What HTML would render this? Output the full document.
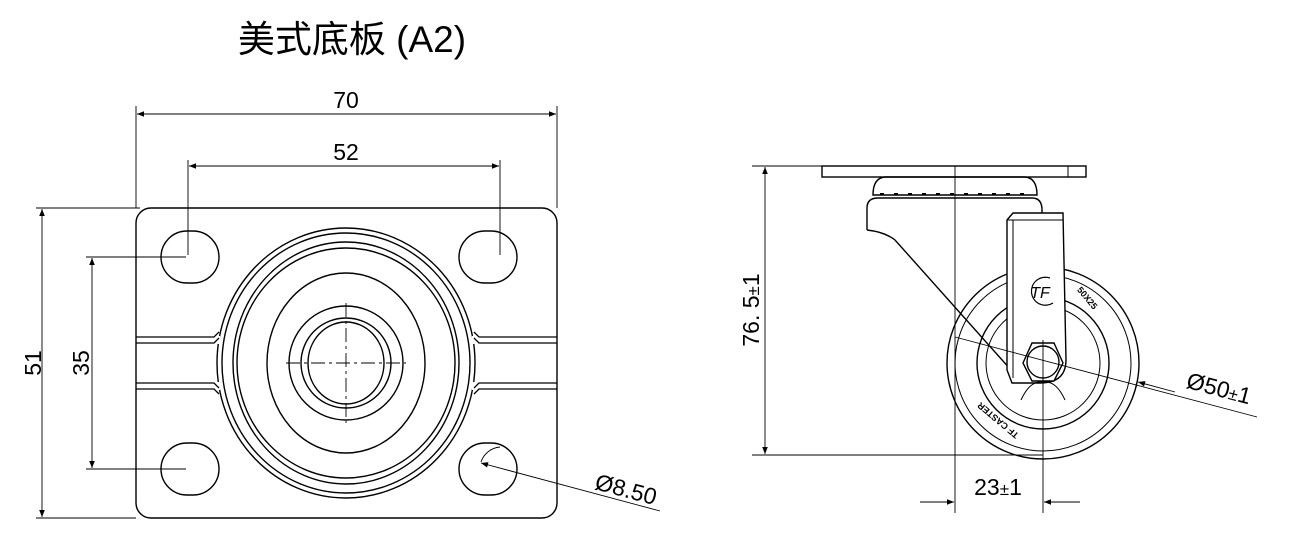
<!DOCTYPE html>
<html><head><meta charset="utf-8"><style>
html,body{margin:0;padding:0;background:#fff;}
svg{display:block;}
text{font-family:"Liberation Sans","Noto Sans CJK SC",sans-serif;fill:#000;}
</style></head><body>
<svg width="1311" height="543" viewBox="0 0 1311 543" xmlns="http://www.w3.org/2000/svg">
<defs>
<marker id="a" viewBox="0 0 10 10" refX="10" refY="5" markerWidth="18" markerHeight="7" orient="auto-start-reverse" markerUnits="userSpaceOnUse"><path d="M0,1 L10,5 L0,9 z" fill="#000"/></marker>
</defs>
<text x="352" y="52" font-size="37" text-anchor="middle">美式底板 (A2)</text>
<g fill="none" stroke="#000" stroke-width="1.4">
<rect x="136" y="208" width="421" height="310" rx="15"/>
<rect x="161" y="231" width="58" height="52" rx="26"/>
<rect x="459" y="231" width="58" height="52" rx="26"/>
<rect x="161" y="443" width="58" height="52" rx="26"/>
<rect x="459" y="443" width="58" height="52" rx="26"/>
<ellipse cx="346" cy="363" rx="129" ry="135"/>
<ellipse cx="346" cy="363" rx="124" ry="130"/>
<ellipse cx="346" cy="363" rx="113" ry="121"/>
<ellipse cx="346" cy="363" rx="109" ry="115"/>
<ellipse cx="346" cy="363" rx="79" ry="90"/>
<ellipse cx="346" cy="363" rx="57" ry="57"/>
<ellipse cx="346" cy="363" rx="45" ry="45"/>
<ellipse cx="346" cy="363" rx="38" ry="41"/>
</g>
<g stroke="#fff" stroke-width="8"><line x1="137" y1="340" x2="220" y2="340"/><line x1="137" y1="386" x2="220" y2="386"/><line x1="472" y1="340" x2="556" y2="340"/><line x1="472" y1="386" x2="556" y2="386"/></g>
<g fill="none" stroke="#000" stroke-width="1.3">
<path d="M136,337 H214 L219,332"/><path d="M136,343 H214 L219,338"/>
<path d="M136,383 H214 L219,388"/><path d="M136,389 H214 L219,394"/>
<path d="M557,337 H479 L474,332"/><path d="M557,343 H479 L474,338"/>
<path d="M557,383 H479 L474,388"/><path d="M557,389 H479 L474,394"/>
</g>
<g stroke="#000" stroke-width="0.9" fill="none">
<line x1="286" y1="363" x2="406" y2="363" stroke-dasharray="14,4,3,4"/>
<line x1="346" y1="303" x2="346" y2="423" stroke-dasharray="14,4,3,4"/>
<line x1="136" y1="106" x2="136" y2="208"/><line x1="557" y1="106" x2="557" y2="208"/>
<line x1="137" y1="114" x2="556" y2="114" marker-start="url(#a)" marker-end="url(#a)"/>
<line x1="188" y1="160" x2="188" y2="255"/><line x1="500" y1="160" x2="500" y2="255"/>
<line x1="189" y1="166" x2="499" y2="166" marker-start="url(#a)" marker-end="url(#a)"/>
<line x1="36" y1="208" x2="140" y2="208"/><line x1="36" y1="518" x2="136" y2="518"/>
<line x1="42" y1="209" x2="42" y2="517" marker-start="url(#a)" marker-end="url(#a)"/>
<line x1="86" y1="257" x2="186" y2="257"/><line x1="86" y1="469" x2="186" y2="469"/>
<line x1="92" y1="258" x2="92" y2="468" marker-start="url(#a)" marker-end="url(#a)"/>
<line x1="660" y1="511" x2="481" y2="463" marker-end="url(#a)"/>
<path d="M481,462 A22,22 0 0 1 500,447"/>
</g>
<text x="346" y="108" font-size="23" text-anchor="middle">70</text>
<text x="346" y="160" font-size="23" text-anchor="middle">52</text>
<text transform="translate(41,363) rotate(-90)" font-size="23" text-anchor="middle">51</text>
<text transform="translate(89,363) rotate(-90)" font-size="23" text-anchor="middle">35</text>
<text transform="translate(624,497) rotate(15)" font-size="23" text-anchor="middle">Ø8.50</text>

<g fill="none" stroke="#000" stroke-width="1.4">
<rect x="822" y="166" width="264" height="11"/>
<line x1="1068" y1="166" x2="1068" y2="177" stroke-width="1"/>
<path d="M873,195 Q873,178 885,177 H1025 Q1037,178 1037,195 Z"/>
<line x1="880" y1="194" x2="1030" y2="194" stroke-dasharray="4,10" stroke-width="2"/>
<path d="M867,230 V208 Q867,198 878,198 H1032 Q1042,198 1042,210 V214"/>
<path d="M867,230 Q885,232 895,240 L1020,380"/>
<circle cx="1043" cy="363" r="96"/>
<circle cx="1043" cy="363" r="88" stroke-width="1"/>
<circle cx="1043" cy="363" r="66"/>
<circle cx="1043" cy="363" r="57" stroke-width="1"/>
<path d="M1007,220 L1013,213 H1063 L1066,360 Q1066,383 1040,383 H1012 L1007,370 Z" fill="#fff"/>
<line x1="1013" y1="220" x2="1013" y2="378" stroke-width="1"/><line x1="1007" y1="220" x2="1063" y2="220" stroke-width="1"/>
<polygon points="1032,343 1054,343 1063,363 1054,381 1032,381 1023,363" fill="#fff"/>
<circle cx="1043" cy="362" r="16"/>
<path d="M1050,278 A14,14 0 1 0 1053,303" stroke-width="1.2"/>
<path d="M1021,400 Q1030,380 1043,382 Q1056,380 1065,400" stroke-width="1"/>
</g>
<text x="1040" y="298" font-size="16" font-style="italic" text-anchor="middle">TF</text>
<text transform="translate(1085,300) rotate(50)" font-size="9" font-weight="bold" text-anchor="middle">50X25</text>
<text transform="translate(1000,418) rotate(-140)" font-size="9" font-weight="bold" text-anchor="middle">TF CASTER</text>
<g stroke="#000" stroke-width="0.9" fill="none">
<line x1="955" y1="166" x2="955" y2="513"/>
<line x1="1043" y1="340" x2="1043" y2="513"/>
<line x1="752" y1="166" x2="822" y2="166"/>
<line x1="752" y1="455" x2="1043" y2="455"/>
<line x1="765" y1="167" x2="765" y2="454" marker-start="url(#a)" marker-end="url(#a)"/>
<line x1="920" y1="502" x2="954" y2="502" marker-end="url(#a)"/>
<line x1="1080" y1="502" x2="1044" y2="502" marker-end="url(#a)"/>
<line x1="955" y1="337" x2="1257" y2="417"/>
<line x1="1175" y1="392" x2="1138" y2="382" marker-end="url(#a)"/>
</g>
<text transform="translate(759,310) rotate(-90)" font-size="23" text-anchor="middle">76. 5<tspan font-size="17">±</tspan>1</text>
<text x="998" y="495" font-size="23" text-anchor="middle">23<tspan font-size="17">±</tspan>1</text>
<text transform="translate(1217,396) rotate(15)" font-size="23" text-anchor="middle">Ø50<tspan font-size="17">±</tspan>1</text>
</svg>
</body></html>
